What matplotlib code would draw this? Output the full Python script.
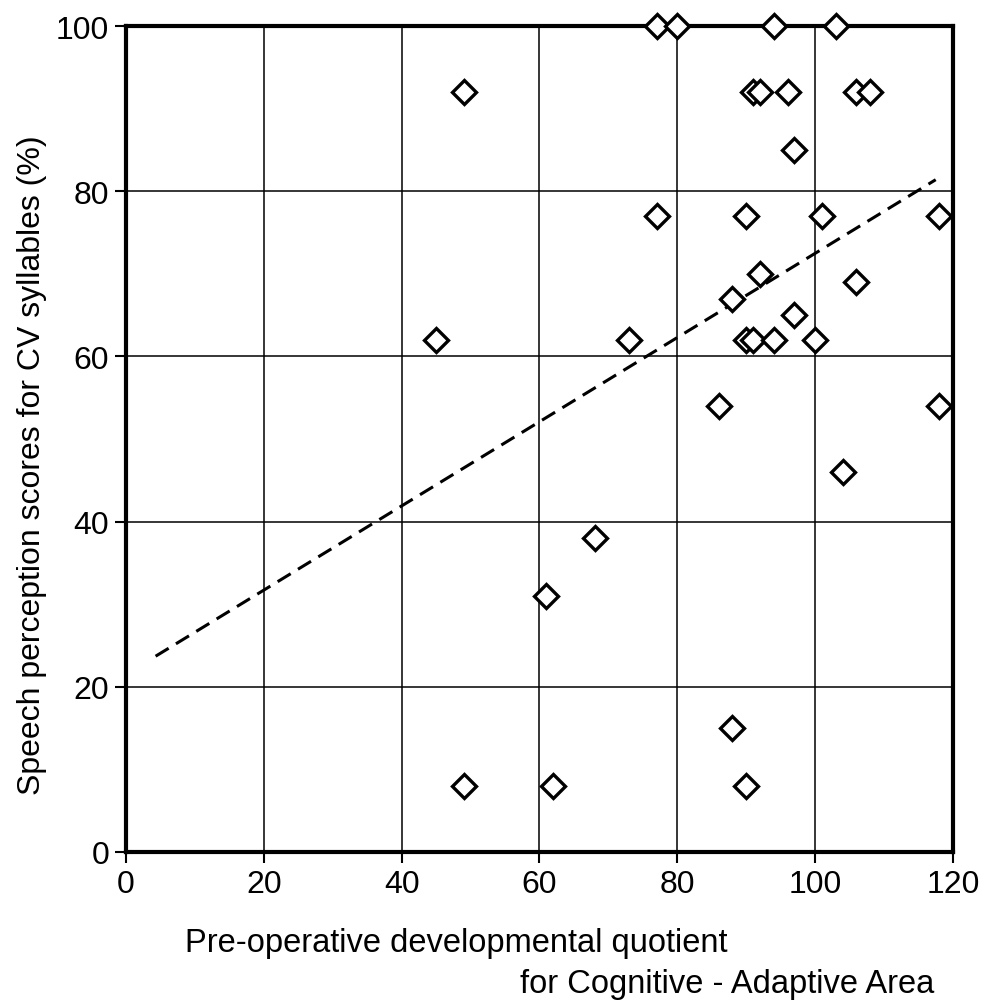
import matplotlib
matplotlib.use('Agg')
from matplotlib import pyplot as plt

plt.rcParams['font.family'] = ['Liberation Sans', 'DejaVu Sans']

# pre-operative DQ (cognitive-adaptive) vs CV syllable score
dq = [49, 45, 77, 80, 94, 103, 91, 92, 96, 106, 108, 97, 77, 90, 101, 118,
      92, 88, 106, 97, 73, 90, 91, 94, 100, 86, 118, 104, 68, 61, 88, 49, 62, 90]
score = [92, 62, 100, 100, 100, 100, 92, 92, 92, 92, 92, 85, 77, 77, 77, 77,
         70, 67, 69, 65, 62, 62, 62, 62, 62, 54, 54, 46, 38, 31, 15, 8, 8, 8]

# regression line end points
fit_x = [4.3, 117.5]
fit_y = [23.7, 81.4]

fig = plt.figure(figsize=(9.88, 10.03), dpi=100)
ax = fig.add_axes([0.1275, 0.1496, 0.837, 0.8234])

ax.plot(fit_x, fit_y, color='black', lw=2.2, ls=(0, (5, 2.8)))
ax.plot(dq, score, ls='none', marker='D', ms=12.5, mfc='white', mec='black',
        mew=2.4, clip_on=False, zorder=5)

ax.set_xlim(0, 120)
ax.set_ylim(0, 100)
ax.set_xticks(range(0, 121, 20))
ax.set_yticks(range(0, 101, 20))
ax.grid(True, color='black', lw=1.1)
ax.set_axisbelow(True)
for s in ax.spines.values():
    s.set_linewidth(3)
ax.tick_params(direction='out', length=8, width=1.5, labelsize=23, pad=4)

fig.text(0.187, 0.059, 'Pre-operative developmental quotient', fontsize=23.5, ha='left', va='center')
fig.text(0.946, 0.018, 'for Cognitive - Adaptive Area', fontsize=23.5, ha='right', va='center')
fig.text(0.032, 0.536, 'Speech perception scores for CV syllables (%)', fontsize=23,
         rotation=90, ha='center', va='center')

fig.savefig('out.png', dpi=100)
plt.close()
